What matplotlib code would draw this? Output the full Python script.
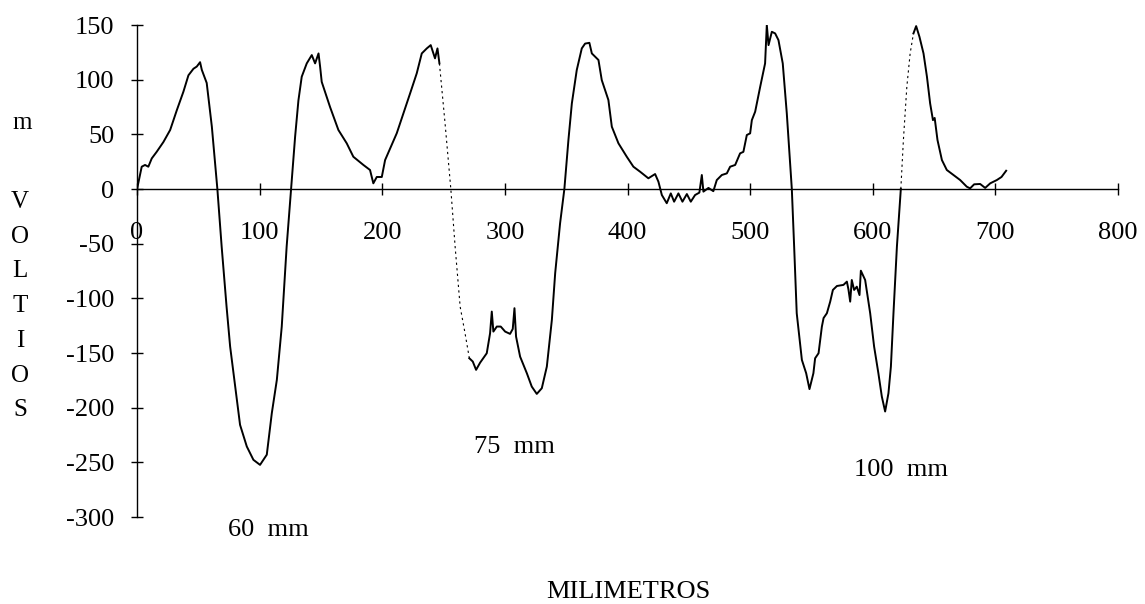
import numpy as np
import matplotlib.pyplot as plt

# position along the bar (mm) and probe signal (mV)
mm = [0, 3.8, 6.5, 9.2, 12, 16, 21.5, 27, 32.4, 37.8, 41.9, 46, 48.7, 51.4, 52.8, 56.8, 61, 65.5,
      69, 73, 75.9, 80, 84, 89.5, 94.9, 100.3, 105.8, 109.9, 114, 118, 122, 125.6,
      128.9, 131.6, 134.3, 138.4, 142.5, 145.2, 148, 149.3, 150.6, 157.4, 164.2, 171, 176.4,
      184.6, 190, 192.7, 195.5, 199.6, 202.3, 206.4, 211.8, 217.2, 222.7, 228.1, 232.2,
      236.3, 239.5, 243, 245, 246.6, 251.2, 255.9, 259.4, 263.5, 267.5, 271, 273.8, 276.5,
      279.8, 285.2, 287.9, 289.3, 290.6, 293.4, 296.6, 300.2, 304.2, 306.4, 307.8, 309.1,
      312.4, 317.9, 321.9, 326, 330.1, 334.2, 338.3, 341, 345, 348.5, 351.8, 354.6, 358.6,
      362.7, 365.4, 368.9, 370.9, 376.3, 379, 384.4, 387.2, 392.6, 399.4, 404.8, 410.3, 417,
      422.5, 425.2, 428, 432, 435.3, 438, 441.5, 444.8, 448.4, 451.6, 455.1, 458.6, 460.6,
      461.9, 466, 470, 472.8, 476.9, 481, 483.7, 487.8, 491.8, 494.5, 497.3, 500, 501.4,
      504.1, 508.2, 512.2, 513.6, 515, 517.7, 520.4, 523.1, 526.6, 529.9, 534, 535.9, 538,
      542.2, 545.7, 548.4, 551.6, 553, 555.8, 558.5, 559.9, 562.6, 565.3, 567.5, 570.8,
      576.1, 578.9, 580.2, 581.6, 582.9, 584.8, 587, 589.2, 590.3, 593.8, 597.9, 601.1,
      604.6, 607.4, 610.1, 612.8, 614.8, 616.9, 619.7, 622.9, 625, 627.8, 630.5, 633.2,
      635.4, 638.1, 641.4, 644.2, 646.8, 649.1, 650.5, 652.8, 656.4, 660.4, 665.8, 671.3,
      676.7, 679.4, 682.7, 687.6, 691.7, 695.8, 701.2, 705, 708.8]
mv = [0, 20.4, 22, 20.4, 28, 34, 43, 54, 72, 89, 104, 110, 112, 116, 109, 97, 57, 0,
      -52.7, -107.6, -144, -180.7, -215.7, -235.5, -247.7, -252.3, -243, -205, -174.6, -125.9, -52.7, 0,
      47.8, 81, 102.7, 114.9, 122.5, 114.9, 124, 111.8, 98, 75, 54, 41.8, 29.5,
      22, 17.4, 5.2, 11, 11, 26.5, 37, 51, 69, 87.5, 105.8, 124,
      128.6, 131.6, 119.5, 128.6, 114.9, 60, 0, -52.7, -107.6, -132, -154.8, -157.8, -165.4,
      -158.8, -150.2, -132, -112.1, -130.4, -125.8, -125.8, -130.4, -132.5, -128, -109, -135,
      -153.3, -168.5, -180.7, -187.4, -182.2, -162.4, -119.7, -77, -31.4, 0, 44.8, 78.3, 108.8,
      128.6, 133, 133.7, 124, 118, 99.6, 81.4, 57, 41.8, 29.5, 20.4, 15.8, 9.8,
      13.7, 6.7, -5.5, -13, -4, -11.6, -4, -11.6, -4.6, -11.6, -5.5, -3.3, 12.8,
      -2.4, 1, -2, 8.2, 12.8, 14.3, 20.4, 22, 32.6, 34, 49.4, 50.9, 63,
      70.7, 93.5, 114.9, 150, 131.6, 143.8, 142.3, 136.2, 114.9, 69.2, 0, -52.7, -113.6,
      -156.3, -168.5, -183, -168.5, -154.8, -150.2, -125.9, -118, -113.6, -103, -92.3, -88.7,
      -87.7, -84.7, -92, -103, -83.2, -92.3, -89.3, -97, -74.7, -83.2, -113.6, -144,
      -168.5, -189.8, -203.5, -186.8, -162.4, -113.6, -52.7, 0, 44.8, 93.5, 124, 142.3,
      149, 139.2, 124, 102.7, 78.3, 63, 65, 44.8, 26.5, 17.4, 12.8, 8.2,
      2.1, 0.6, 4.3, 4.6, 1, 5.2, 8.2, 11, 16.7]

# stretches where the trace was printed faint/dotted
faint_ranges = [(246.6, 271), (622.9, 633.2)]

# labels for the three defects
defect_labels = ["60 mm", "75 mm", "100 mm"]
defect_pos = [(107, -312), (308, -236), (623, -257)]

x_ticks = [0, 100, 200, 300, 400, 500, 600, 700, 800]
y_ticks = [-300, -250, -200, -150, -100, -50, 0, 50, 100, 150]

plt.rcParams["font.family"] = ["Liberation Serif", "DejaVu Serif"]
plt.rcParams["axes.unicode_minus"] = False

x = np.array(mm)
y = np.array(mv)

solid = y.copy()
for a, b in faint_ranges:
    solid[(x > a) & (x < b)] = np.nan

fig = plt.figure(figsize=(11.45, 6.04), dpi=100)
ax = fig.add_axes([0.1197, 0.1440, 0.8567, 0.8146])

ax.plot(x, solid, color="black", lw=1.4)
for a, b in faint_ranges:
    m = (x >= a) & (x <= b)
    ax.plot(x[m], y[m], color="black", lw=0.8, ls=(0, (2, 3)))

ax.set_xlim(0, 800)
ax.set_ylim(-300, 150)

ax.spines["top"].set_visible(False)
ax.spines["right"].set_visible(False)
ax.spines["bottom"].set_position(("data", 0))
ax.spines["left"].set_linewidth(1.0)
ax.spines["bottom"].set_linewidth(1.0)

ax.set_xticks(x_ticks)
ax.set_yticks(y_ticks)
ax.tick_params(direction="inout", length=9, width=1.0, labelsize=19)
ax.tick_params(axis="y", pad=12)
ax.tick_params(axis="x", pad=19)

for text, (px, py) in zip(defect_labels, defect_pos):
    ax.text(px, py, text.replace(" ", "  "), fontsize=19, ha="center", va="center")

# axis titles
fig.text(628 / 1145, 1 - 592 / 604, "MILIMETROS", fontsize=19, ha="center", va="center")
fig.text(22 / 1145, 1 - 123 / 604, "m", fontsize=18, ha="center", va="center")
for i, ch in enumerate("VOLTIOS"):
    fig.text(20 / 1145, 1 - (202 + i * 34.7) / 604, ch, fontsize=18, ha="center", va="center")

plt.savefig("out.png", dpi=100)
